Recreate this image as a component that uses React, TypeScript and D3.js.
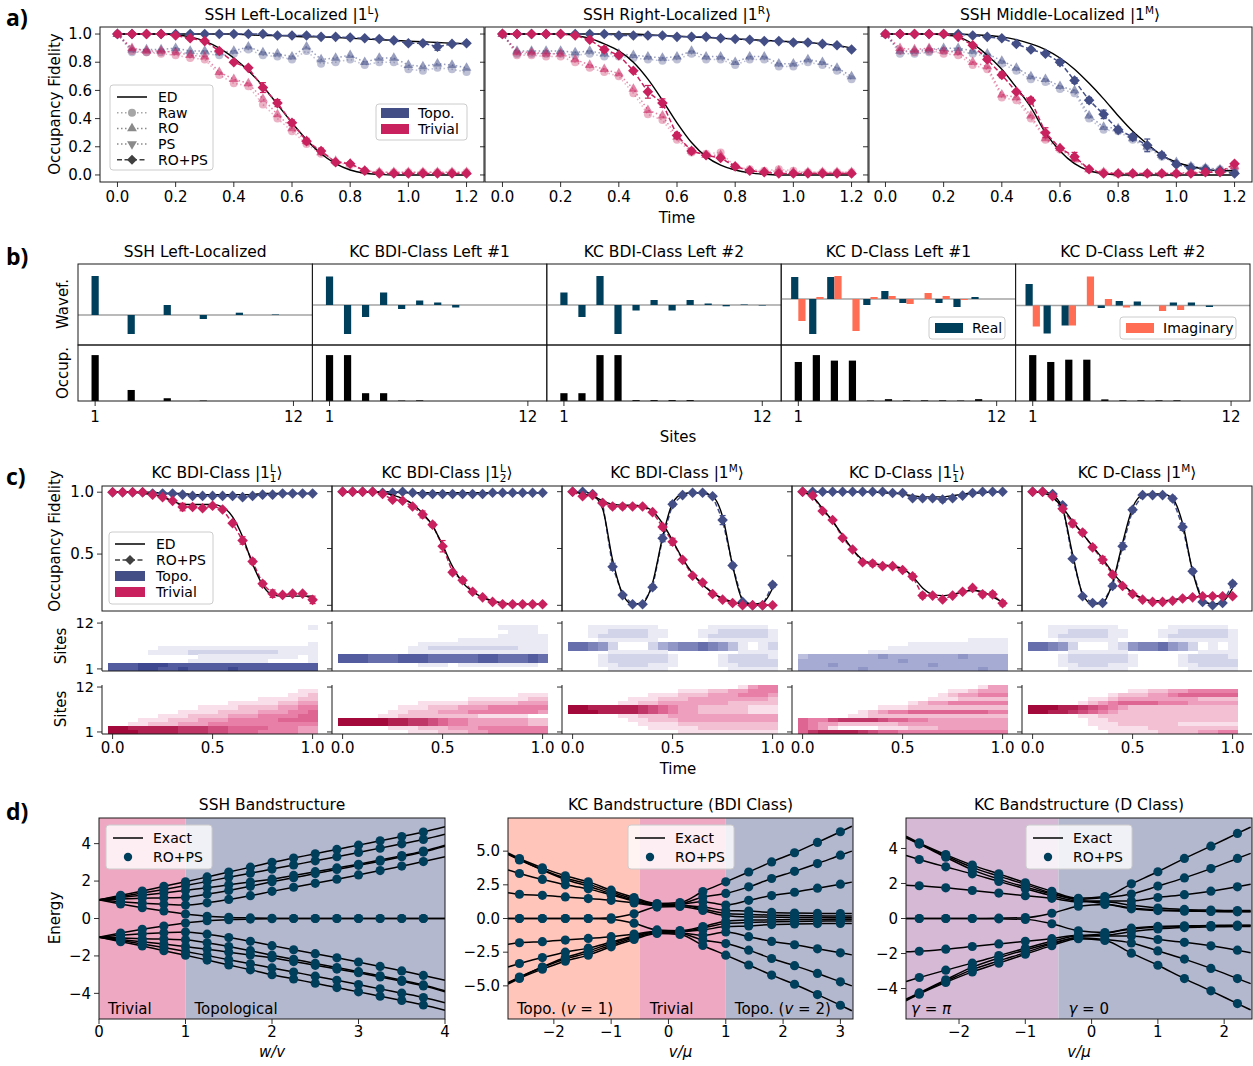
import * as d3 from 'd3';
import React from 'react';

const FONT = "'DejaVu Sans', Verdana, sans-serif";
const TOPO = '#444e86';
const TRIV = '#c8215d';
const REAL = '#003f5c';
const IMAG = '#ff6e54';
const AXIS = '#1a1a1a';
const TRIV_BG = '#eea8c1';
const TOPO_BG = '#b4b8cf';
const NU1_BG = '#ffc5bb';
const PI_BG = '#d5b9d5';

// ---------------- a) SSH occupancy fidelity ----------------
const timeA = [0, 0.05, 0.1, 0.15, 0.2, 0.25, 0.3, 0.35, 0.4, 0.45, 0.5, 0.55, 0.6, 0.65, 0.7, 0.75, 0.8, 0.85, 0.9, 0.95, 1.0, 1.05, 1.1, 1.15, 1.2];

const edTopoL = [1, 1, 1, 1, 1, 1, 1, 1, 1, 0.995, 0.99, 0.99, 0.985, 0.98, 0.98, 0.975, 0.97, 0.965, 0.96, 0.955, 0.95, 0.945, 0.94, 0.935, 0.93];
const ropsTopoL = [1, 1, 1, 1, 1, 1, 1, 1, 1, 1, 1, 0.99, 0.99, 0.99, 0.98, 0.98, 0.975, 0.97, 0.965, 0.955, 0.935, 0.935, 0.91, 0.93, 0.935];
const roTopoL = [1, 0.89, 0.89, 0.89, 0.9, 0.88, 0.88, 0.87, 0.88, 0.91, 0.87, 0.86, 0.84, 0.91, 0.82, 0.83, 0.85, 0.8, 0.83, 0.83, 0.78, 0.77, 0.79, 0.78, 0.76];
const rawTopoL = [1, 0.87, 0.87, 0.87, 0.88, 0.86, 0.86, 0.85, 0.86, 0.89, 0.85, 0.84, 0.82, 0.88, 0.79, 0.8, 0.82, 0.78, 0.8, 0.8, 0.75, 0.74, 0.76, 0.75, 0.73];
const errTopoL = [0, 0, 0, 0, 0, 0, 0, 0, 0, 0, 0, 0, 0, 0, 0, 0, 0, 0, 0, 0, 0.01, 0.01, 0.025, 0.01, 0.01];
const edTrivL = [1, 1, 1, 1, 0.995, 0.98, 0.95, 0.9, 0.83, 0.74, 0.63, 0.5, 0.37, 0.25, 0.15, 0.08, 0.035, 0.012, 0.004, 0, 0, 0, 0, 0, 0];
const ropsTrivL = [1, 1, 1, 1, 0.99, 0.97, 0.95, 0.88, 0.8, 0.76, 0.62, 0.51, 0.37, 0.24, 0.17, 0.09, 0.08, 0.03, 0.01, 0.01, 0.01, 0.01, 0.01, 0.01, 0.01];
const roTrivL = [1, 0.9, 0.88, 0.88, 0.87, 0.85, 0.84, 0.73, 0.68, 0.65, 0.54, 0.43, 0.33, 0.24, 0.16, 0.1, 0.08, 0.03, 0.02, 0.02, 0.02, 0.02, 0.02, 0.02, 0.02];
const rawTrivL = [1, 0.88, 0.87, 0.86, 0.85, 0.83, 0.82, 0.71, 0.65, 0.63, 0.5, 0.4, 0.31, 0.22, 0.15, 0.09, 0.07, 0.03, 0.02, 0.02, 0.02, 0.02, 0.02, 0.02, 0.02];
const errTrivL = [0, 0, 0, 0, 0, 0, 0, 0, 0, 0, 0.035, 0.025, 0.02, 0.02, 0.02, 0.01, 0.01, 0, 0, 0, 0, 0, 0, 0, 0];

const edTopoR = [1, 1, 1, 1, 1, 1, 1, 1, 1, 1, 0.995, 0.99, 0.985, 0.98, 0.975, 0.97, 0.965, 0.96, 0.955, 0.95, 0.945, 0.94, 0.93, 0.92, 0.9];
const ropsTopoR = [1, 1, 1, 1, 1, 1, 1, 1, 0.99, 0.99, 0.99, 0.99, 0.98, 0.98, 0.98, 0.97, 0.965, 0.96, 0.95, 0.95, 0.94, 0.94, 0.93, 0.92, 0.89];
const roTopoR = [1, 0.88, 0.88, 0.88, 0.88, 0.87, 0.88, 0.86, 0.86, 0.85, 0.84, 0.83, 0.84, 0.88, 0.84, 0.84, 0.8, 0.84, 0.84, 0.79, 0.79, 0.82, 0.8, 0.76, 0.7];
const rawTopoR = [1, 0.86, 0.86, 0.86, 0.86, 0.85, 0.86, 0.84, 0.84, 0.83, 0.82, 0.81, 0.82, 0.86, 0.82, 0.82, 0.78, 0.82, 0.82, 0.77, 0.77, 0.8, 0.78, 0.74, 0.68];
const errTopoR = [0, 0, 0, 0, 0, 0, 0, 0, 0, 0, 0, 0, 0, 0, 0, 0, 0, 0, 0, 0.01, 0.01, 0.01, 0.01, 0.01, 0.01];
const edTrivR = [1, 1, 1, 1, 1, 0.99, 0.97, 0.93, 0.88, 0.8, 0.68, 0.53, 0.37, 0.23, 0.13, 0.07, 0.035, 0.015, 0.005, 0, 0, 0, 0, 0, 0];
const ropsTrivR = [1, 1, 1, 1, 1, 0.99, 0.96, 0.89, 0.85, 0.74, 0.59, 0.51, 0.28, 0.17, 0.14, 0.12, 0.06, 0.03, 0.02, 0.01, 0.01, 0.01, 0.01, 0.01, 0.01];
const roTrivR = [1, 0.87, 0.87, 0.86, 0.86, 0.82, 0.78, 0.75, 0.72, 0.61, 0.46, 0.42, 0.27, 0.17, 0.14, 0.14, 0.06, 0.03, 0.02, 0.03, 0.02, 0.02, 0.02, 0.02, 0.02];
const rawTrivR = [1, 0.85, 0.85, 0.84, 0.84, 0.8, 0.76, 0.73, 0.7, 0.58, 0.43, 0.39, 0.25, 0.16, 0.15, 0.16, 0.06, 0.04, 0.03, 0.04, 0.03, 0.02, 0.02, 0.02, 0.02];
const errTrivR = [0, 0, 0, 0, 0, 0, 0, 0.02, 0, 0, 0.045, 0.03, 0.02, 0.02, 0.01, 0.01, 0.01, 0, 0, 0, 0, 0, 0, 0, 0];

const edTopoM = [1, 1, 1, 1, 1, 1, 0.995, 0.99, 0.98, 0.96, 0.93, 0.89, 0.83, 0.75, 0.65, 0.54, 0.42, 0.31, 0.22, 0.14, 0.09, 0.06, 0.04, 0.03, 0.03];
const ropsTopoM = [1, 1, 1, 1, 1, 1, 0.99, 0.98, 0.97, 0.93, 0.89, 0.86, 0.8, 0.67, 0.53, 0.43, 0.32, 0.27, 0.21, 0.14, 0.075, 0.05, 0.04, 0.03, 0.01];
const roTopoM = [1, 0.88, 0.88, 0.89, 0.9, 0.9, 0.88, 0.86, 0.81, 0.76, 0.7, 0.68, 0.63, 0.6, 0.42, 0.34, 0.33, 0.26, 0.2, 0.14, 0.09, 0.06, 0.05, 0.04, 0.03];
const rawTopoM = [1, 0.86, 0.86, 0.87, 0.88, 0.88, 0.86, 0.84, 0.79, 0.74, 0.68, 0.66, 0.61, 0.58, 0.4, 0.32, 0.31, 0.25, 0.19, 0.13, 0.08, 0.06, 0.05, 0.04, 0.03];
const errTopoM = [0, 0, 0, 0, 0, 0, 0, 0, 0, 0.01, 0.01, 0.01, 0.02, 0.02, 0.02, 0.03, 0.02, 0.02, 0.045, 0.02, 0.01, 0.01, 0.01, 0.01, 0.01];
const edTrivM = [1, 1, 1, 1, 0.995, 0.98, 0.93, 0.85, 0.75, 0.62, 0.48, 0.3, 0.17, 0.08, 0.03, 0.01, 0, 0, 0, 0, 0, 0, 0, 0, 0];
const ropsTrivM = [1, 1, 1, 1, 1, 0.98, 0.92, 0.82, 0.71, 0.59, 0.53, 0.3, 0.19, 0.13, 0.04, 0.01, 0.01, 0.01, 0.01, 0.01, 0.01, 0.01, 0.02, 0.02, 0.08];
const roTrivM = [1, 0.9, 0.89, 0.9, 0.88, 0.87, 0.8, 0.77, 0.57, 0.55, 0.42, 0.26, 0.19, 0.12, 0.04, 0.02, 0.01, 0.01, 0.01, 0.01, 0.01, 0.02, 0.02, 0.03, 0.06];
const rawTrivM = [1, 0.88, 0.87, 0.88, 0.86, 0.85, 0.78, 0.75, 0.55, 0.53, 0.4, 0.25, 0.18, 0.11, 0.04, 0.02, 0.01, 0.01, 0.01, 0.01, 0.01, 0.02, 0.02, 0.03, 0.05];
const errTrivM = [0, 0, 0, 0, 0, 0, 0.01, 0.01, 0.02, 0.01, 0.02, 0.035, 0.01, 0.03, 0.01, 0.01, 0, 0, 0, 0, 0, 0, 0, 0, 0.01];

const aPlots = [
  { title: 'SSH Left-Localized |1', sup: 'L',
    topo: { ed: edTopoL, rops: ropsTopoL, ro: roTopoL, raw: rawTopoL, err: errTopoL },
    triv: { ed: edTrivL, rops: ropsTrivL, ro: roTrivL, raw: rawTrivL, err: errTrivL } },
  { title: 'SSH Right-Localized |1', sup: 'R',
    topo: { ed: edTopoR, rops: ropsTopoR, ro: roTopoR, raw: rawTopoR, err: errTopoR },
    triv: { ed: edTrivR, rops: ropsTrivR, ro: roTrivR, raw: rawTrivR, err: errTrivR } },
  { title: 'SSH Middle-Localized |1', sup: 'M',
    topo: { ed: edTopoM, rops: ropsTopoM, ro: roTopoM, raw: rawTopoM, err: errTopoM },
    triv: { ed: edTrivM, rops: ropsTrivM, ro: roTrivM, raw: rawTrivM, err: errTrivM } },
];
const aTicksX = [0, 0.2, 0.4, 0.6, 0.8, 1.0, 1.2];
const aTicksY = [0, 0.2, 0.4, 0.6, 0.8, 1.0];

// ---------------- b) wavefunctions ----------------
const sites = [1, 2, 3, 4, 5, 6, 7, 8, 9, 10, 11, 12];
const bTitles = ['SSH Left-Localized', 'KC BDI-Class Left #1', 'KC BDI-Class Left #2', 'KC D-Class Left #1', 'KC D-Class Left #2'];
const waveSSH = [0.78, 0, -0.38, 0, 0.2, 0, -0.08, 0, 0.046, 0, 0.01, 0];
const waveBdi1 = [0.57, -0.58, -0.24, 0.25, -0.08, 0.09, 0.05, -0.05, 0, 0, 0, 0];
const waveBdi2 = [0.25, -0.24, 0.58, -0.58, -0.11, 0.1, -0.11, 0.1, 0.03, -0.026, 0.01, -0.01];
const realD1 = [0.44, -0.7, 0.44, 0, -0.12, 0.16, -0.08, 0, -0.08, -0.16, 0.04, 0];
const imagD1 = [-0.44, 0.04, 0.46, -0.64, 0.04, 0.06, -0.1, 0.12, 0.06, -0.02, 0, 0];
const realD2 = [0.43, -0.56, -0.4, 0, -0.05, 0.09, 0.08, 0, 0.06, 0.06, -0.03, 0];
const imagD2 = [-0.42, 0, -0.4, 0.58, 0.13, -0.04, 0, -0.11, -0.09, 0, 0, 0];
const occSSH = [1, 0, 0.24, 0, 0.06, 0, 0.01, 0, 0, 0, 0, 0];
const occBdi1 = [1, 1, 0.17, 0.17, 0.01, 0.015, 0, 0, 0, 0, 0, 0];
const occBdi2 = [0.17, 0.17, 1, 1, 0.02, 0.02, 0.02, 0.02, 0, 0, 0, 0];
const occD1 = [0.85, 1, 0.88, 0.88, 0.01, 0.04, 0.015, 0.015, 0.015, 0.01, 0.04, 0];
const occD2 = [1, 0.85, 0.9, 0.9, 0.035, 0.015, 0.015, 0.015, 0.015, 0, 0, 0];
const bReal = [waveSSH, waveBdi1, waveBdi2, realD1, realD2];
const bImag = [null, null, null, imagD1, imagD2];
const bOcc = [occSSH, occBdi1, occBdi2, occD1, occD2];
const bWaveLim = [[-0.6, 1.02], [-0.8, 0.82], [-0.8, 0.82], [-0.92, 0.7], [-0.79, 0.83]];

// ---------------- c) Kitaev chain dynamics ----------------
const timeC = [0, 0.05, 0.1, 0.15, 0.2, 0.25, 0.3, 0.35, 0.4, 0.45, 0.5, 0.55, 0.6, 0.65, 0.7, 0.75, 0.8, 0.85, 0.9, 0.95, 1.0];
const cTitles = ['KC BDI-Class |1', 'KC BDI-Class |1', 'KC BDI-Class |1', 'KC D-Class |1', 'KC D-Class |1'];
const cSup = ['L', 'L', 'M', 'L', 'M'];
const cSub = ['1', '2', '', '1', ''];

const c1TopoEd = [1, 1, 1, 1, 1, 0.99, 0.99, 0.99, 0.98, 0.98, 0.98, 0.98, 0.98, 0.98, 0.98, 0.99, 0.99, 0.99, 0.99, 0.99, 0.99];
const c1TopoRops = [1, 1, 1, 1, 0.99, 0.99, 0.99, 0.98, 0.97, 0.97, 0.97, 0.97, 0.97, 0.96, 0.97, 0.98, 0.98, 0.99, 0.99, 0.99, 0.99];
const c1TopoErr = [0, 0, 0, 0, 0, 0, 0, 0, 0, 0, 0, 0, 0, 0.01, 0, 0, 0, 0, 0, 0, 0];
const c1TrivEd = [1, 1, 1, 0.99, 0.98, 0.96, 0.93, 0.9, 0.9, 0.9, 0.9, 0.88, 0.8, 0.64, 0.42, 0.25, 0.17, 0.16, 0.16, 0.16, 0.16];
const c1TrivRops = [1, 1, 1, 1, 0.98, 0.96, 0.93, 0.88, 0.88, 0.87, 0.89, 0.86, 0.75, 0.61, 0.44, 0.26, 0.18, 0.17, 0.18, 0.18, 0.13];
const c1TrivErr = [0, 0, 0, 0, 0, 0, 0, 0.03, 0, 0, 0, 0, 0, 0.03, 0.02, 0.02, 0.03, 0.01, 0.01, 0.01, 0.03];

const c2TopoEd = [1, 1, 1, 1, 1, 1, 0.99, 0.99, 0.99, 0.99, 0.99, 0.99, 0.99, 0.99, 0.99, 0.99, 0.99, 0.99, 0.99, 0.99, 0.99];
const c2TopoRops = [1, 1, 1, 1, 0.99, 0.99, 1, 0.99, 0.98, 0.98, 0.98, 0.98, 0.98, 0.98, 0.98, 0.99, 0.99, 0.99, 0.99, 0.99, 0.99];
const c2TopoErr = [0, 0, 0, 0, 0, 0, 0, 0, 0, 0, 0, 0, 0, 0, 0, 0, 0, 0, 0, 0, 0];
const c2TrivEd = [1, 1, 1, 1, 0.99, 0.97, 0.94, 0.89, 0.81, 0.7, 0.53, 0.34, 0.2, 0.12, 0.07, 0.04, 0.02, 0.01, 0.01, 0.01, 0.01];
const c2TrivRops = [1, 1, 1, 1, 0.98, 0.93, 0.92, 0.87, 0.8, 0.71, 0.52, 0.29, 0.22, 0.12, 0.07, 0.03, 0.01, 0.01, 0.01, 0.01, 0.01];
const c2TrivErr = [0, 0, 0, 0, 0, 0, 0.01, 0, 0.03, 0.02, 0.05, 0.02, 0.02, 0.01, 0, 0, 0, 0, 0, 0, 0];

const c3TopoEd = [1, 1, 0.97, 0.85, 0.4, 0.1, 0.01, 0.02, 0.2, 0.6, 0.9, 0.98, 0.99, 0.99, 0.96, 0.78, 0.35, 0.05, 0.01, 0.02, 0.15];
const c3TopoRops = [1, 1, 0.98, 0.9, 0.34, 0.09, 0.01, 0.01, 0.16, 0.59, 0.89, 0.97, 0.99, 0.99, 0.96, 0.75, 0.35, 0.03, 0, 0, 0.18];
const c3TopoErr = [0, 0, 0, 0, 0.03, 0, 0, 0, 0.02, 0.03, 0.02, 0.01, 0, 0, 0, 0.04, 0.02, 0, 0, 0, 0.02];
const c3TrivEd = [1, 0.98, 0.96, 0.92, 0.89, 0.88, 0.88, 0.87, 0.83, 0.72, 0.57, 0.41, 0.28, 0.18, 0.11, 0.06, 0.03, 0.01, 0, 0, 0];
const c3TrivRops = [1, 0.96, 0.97, 0.9, 0.87, 0.87, 0.87, 0.87, 0.82, 0.69, 0.56, 0.4, 0.26, 0.2, 0.1, 0.05, 0.02, 0, 0, 0, 0];
const c3TrivErr = [0, 0, 0, 0, 0.02, 0.02, 0.01, 0, 0, 0.02, 0.03, 0.01, 0, 0.01, 0, 0, 0, 0, 0, 0, 0];

const c4TopoEd = [1, 1, 1, 1, 1, 1, 1, 1, 0.99, 0.99, 0.98, 0.97, 0.96, 0.96, 0.96, 0.97, 0.98, 0.99, 0.99, 1, 1];
const c4TopoRops = [1, 1, 1, 1, 1, 1, 1, 1, 1, 0.99, 0.99, 0.95, 0.95, 0.95, 0.94, 0.95, 0.97, 0.99, 1, 1, 1];
const c4TopoErr = [0, 0, 0, 0, 0, 0, 0, 0, 0, 0, 0, 0, 0, 0, 0.02, 0, 0, 0, 0, 0, 0];
const c4TrivEd = [1, 0.96, 0.87, 0.77, 0.66, 0.55, 0.47, 0.44, 0.43, 0.42, 0.4, 0.34, 0.25, 0.2, 0.19, 0.2, 0.22, 0.23, 0.22, 0.18, 0.14];
const c4TrivRops = [1, 0.97, 0.85, 0.78, 0.64, 0.55, 0.45, 0.44, 0.42, 0.42, 0.39, 0.34, 0.19, 0.19, 0.16, 0.19, 0.22, 0.25, 0.2, 0.2, 0.13];
const c4TrivErr = [0, 0, 0, 0, 0, 0, 0, 0.02, 0, 0, 0, 0.02, 0.02, 0, 0, 0, 0, 0, 0.02, 0.02, 0.02];

const c5TopoEd = [1, 1, 0.97, 0.85, 0.45, 0.1, 0.01, 0.02, 0.2, 0.55, 0.86, 0.97, 0.98, 0.98, 0.94, 0.72, 0.3, 0.05, 0.01, 0.03, 0.15];
const c5TopoRops = [1, 1, 0.98, 0.88, 0.41, 0.08, 0.02, 0.02, 0.17, 0.52, 0.84, 0.97, 0.97, 0.97, 0.94, 0.69, 0.3, 0.03, 0, 0.02, 0.19];
const c5TopoErr = [0, 0, 0, 0, 0, 0, 0, 0, 0.02, 0.03, 0.02, 0, 0, 0, 0.02, 0.03, 0.02, 0, 0, 0, 0.02];
const c5TrivEd = [1, 0.99, 0.95, 0.86, 0.74, 0.63, 0.52, 0.41, 0.29, 0.19, 0.11, 0.06, 0.04, 0.04, 0.05, 0.06, 0.07, 0.08, 0.08, 0.08, 0.08];
const c5TrivRops = [1, 1, 0.96, 0.85, 0.72, 0.64, 0.51, 0.4, 0.27, 0.17, 0.1, 0.05, 0.03, 0.03, 0.04, 0.06, 0.07, 0.08, 0.08, 0.08, 0.08];
const c5TrivErr = [0, 0, 0, 0.02, 0.03, 0.02, 0.02, 0.03, 0.02, 0, 0, 0, 0, 0, 0, 0, 0, 0, 0, 0, 0];

const cTopo = [
  { ed: c1TopoEd, rops: c1TopoRops, err: c1TopoErr },
  { ed: c2TopoEd, rops: c2TopoRops, err: c2TopoErr },
  { ed: c3TopoEd, rops: c3TopoRops, err: c3TopoErr },
  { ed: c4TopoEd, rops: c4TopoRops, err: c4TopoErr },
  { ed: c5TopoEd, rops: c5TopoRops, err: c5TopoErr },
];
const cTriv = [
  { ed: c1TrivEd, rops: c1TrivRops, err: c1TrivErr },
  { ed: c2TrivEd, rops: c2TrivRops, err: c2TrivErr },
  { ed: c3TrivEd, rops: c3TrivRops, err: c3TrivErr },
  { ed: c4TrivEd, rops: c4TrivRops, err: c4TrivErr },
  { ed: c5TrivEd, rops: c5TrivRops, err: c5TrivErr },
];
const cLims = [[0.04, 1.05], [-0.05, 1.05], [-0.05, 1.05], [0.07, 1.045], [-0.05, 1.05]];

// site occupation heatmaps: rows are site 12 (top) ... site 1 (bottom), one digit (0-9) per time step
const heatTopo1 = ['000000000000000000000', '000000000000000000001', '000000000000000000000', '000000000000000000000', '000000000000000000000', '000000000000000000001', '000001111111111111111', '000011112222222221111', '000000000111111111101', '000000001111111100001', '888999888888888888888', '888998898888988888888'];
const heatTopo2 = ['000000000000000000000', '000000000000000011110', '000000000000000001110', '000000000000000011111', '000000000000111111111', '000000001111111111111', '000000011222222222111', '000000011111111111111', '888777888777778877787', '888777888777778877787', '000000001110111111110', '000000000000000000000'];
const heatTopo3 = ['000000000000000000000', '001111111000001111110', '001122221100011222221', '001222221100012222221', '000111111000001111111', '776520002456676531012', '776520002456676531012', '000011111100000001111', '000122222210000122221', '000122222210000122222', '000112221110000112222', '000011111100000011111'];
const heatTopo4 = ['000000000000000000000', '000000000000000000000', '000000000000000000000', '000000000000000000000', '000000000000000001111', '000000000001111111111', '000000000111111111111', '000000011111111111111', '344444445444444454444', '444444444454444444444', '444544444444454444444', '444444544444444444544'];
const heatTopo5 = ['000000000000000000000', '001111111000001111110', '001122221100011222221', '001222221100012222221', '000111111000001111111', '776520001256675420101', '776520001256675420101', '000011111100000001111', '000122222210000122221', '000122222210000122222', '000112221110000112222', '000011111100000011111'];
const heatTriv1 = ['000000000000000000000', '000000000000000000011', '000000000000000000112', '000000000000000111122', '000000000000111112233', '000000000111122223344', '000000011112222333445', '000001112222333444455', '000111222333444445555', '001122233344444444444', '998888877766555544433', '999888877766555444433'];
const heatTriv2 = ['000000000000000000000', '000000000000000000000', '000000000000000000111', '000000000000011111122', '000000001111122222333', '000000111222333444444', '000001122233344444443', '000011222222221111100', '999998877654433333322', '999998877654433333322', '000001112223334444444', '000000011122233444444'];
const heatTriv3 = ['000000000000000001344', '000000000001112233444', '000000001112223334443', '000000111222333333332', '000001122333333322222', '998888876543322222111', '999888876543322222111', '000001122233333333333', '000000112223333333333', '000000011112222222222', '000000001111122222222', '000000000001111111111'];
const heatTriv4 = ['000000000000000000133', '000000000000000112333', '000000000000001233444', '000000000000011122222', '000000000001233444444', '000000001112222222222', '000000123445555555544', '000001122222222222222', '544677776554433333333', '543322222233333333333', '543100001112223333333', '578888765544444444444'];
const heatTriv5 = ['000000000000000000000', '000000000011223344444', '000000001222334555555', '000000112333333332222', '000001234555544433333', '999887654322222222222', '998876543222222222222', '000001122222222222222', '000000112222222222222', '000000111222222111111', '000000011111222222222', '000000001111122223344'];
const heatTopo = [heatTopo1, heatTopo2, heatTopo3, heatTopo4, heatTopo5];
const heatTriv = [heatTriv1, heatTriv2, heatTriv3, heatTriv4, heatTriv5];

// ---------------- d) band structures ----------------
const sshGrid = [0, 0.25, 0.5, 0.75, 1, 1.25, 1.5, 1.75, 2, 2.25, 2.5, 2.75, 3, 3.25, 3.5, 3.75, 4];
const sshB1 = [1, 1.24, 1.47, 1.72, 1.96, 2.22, 2.48, 2.74, 3.0, 3.23, 3.46, 3.69, 3.92, 4.15, 4.38, 4.62, 4.9];
const sshB2 = [1, 1.18, 1.36, 1.55, 1.76, 1.98, 2.2, 2.42, 2.64, 2.86, 3.08, 3.3, 3.53, 3.76, 3.99, 4.22, 4.5];
const sshB3 = [1, 1.12, 1.24, 1.36, 1.5, 1.64, 1.8, 1.95, 2.1, 2.3, 2.5, 2.7, 2.9, 3.12, 3.36, 3.6, 3.92];
const sshB4 = [1, 1.04, 1.08, 1.1, 1.14, 1.3, 1.5, 1.72, 1.96, 2.18, 2.4, 2.62, 2.84, 3.06, 3.3, 3.55, 3.86];
const sshB5 = [1, 0.9, 0.82, 0.76, 0.72, 0.84, 1.02, 1.22, 1.45, 1.67, 1.88, 2.1, 2.33, 2.56, 2.8, 3.04, 3.3];
const sshEdge = [1, 0.78, 0.58, 0.4, 0.24, 0.12, 0.06, 0.03, 0.01, 0, 0, 0, 0, 0, 0, 0, 0];

const bdiGrid = [-2.8, -2.6, -2.2, -1.8, -1.4, -1.0, -0.6, -0.2, 0.2, 0.6, 1.0, 1.4, 1.8, 2.2, 2.6, 3.0, 3.2];
const bdiB1 = [4.87, 4.45, 3.76, 3.17, 2.72, 2.1, 1.56, 1.11, 1.18, 2.0, 2.72, 3.45, 4.2, 4.88, 5.65, 6.44, 6.85];
const bdiB2 = [4.8, 4.38, 3.62, 3.0, 2.55, 1.98, 1.45, 1.05, 1.1, 1.6, 1.86, 2.35, 2.97, 3.5, 4.08, 4.7, 5.0];
const bdiB3 = [3.6, 3.34, 2.9, 2.5, 2.2, 1.75, 1.3, 1.0, 1.05, 1.25, 1.0, 1.35, 1.7, 1.95, 2.25, 2.55, 2.7];
const bdiB4 = [1.92, 1.8, 1.72, 1.6, 1.48, 1.35, 1.15, 0.95, 0.95, 0.85, 0.6, 0.55, 0.45, 0.4, 0.38, 0.37, 0.37];
const bdiB5 = [4.75, 4.35, 3.6, 2.9, 2.4, 1.85, 1.35, 0.98, 1.0, 0.7, 0.37, 0.3, 0.25, 0.22, 0.2, 0.18, 0.18];
const bdiB6 = [0, 0, 0, 0, 0, 0.05, 0.35, 0.85, 0.9, 0.6, 0.2, 0.12, 0.1, 0.08, 0.07, 0.06, 0.06];

const dGrid = [-2.8, -2.6, -2.2, -1.8, -1.4, -1.0, -0.6, -0.2, 0.2, 0.6, 1.0, 1.4, 1.8, 2.2, 2.4];
const dB1 = [4.7, 4.32, 3.65, 3.05, 2.55, 2.04, 1.55, 1.15, 1.25, 1.98, 2.67, 3.43, 4.13, 4.86, 5.22];
const dB2 = [4.65, 4.28, 3.58, 2.92, 2.42, 1.95, 1.45, 1.1, 1.2, 1.4, 1.85, 2.32, 2.85, 3.43, 3.72];
const dB3 = [3.6, 3.37, 2.95, 2.55, 2.12, 1.7, 1.3, 1.0, 1.0, 1.0, 1.2, 1.36, 1.56, 1.81, 1.95];
const dB4 = [1.9, 1.87, 1.75, 1.6, 1.45, 1.3, 1.15, 0.95, 0.95, 0.75, 0.6, 0.52, 0.48, 0.45, 0.45];
const dB5 = [4.6, 4.25, 3.5, 2.78, 2.25, 1.8, 1.4, 1.05, 0.85, 0.6, 0.5, 0.45, 0.42, 0.4, 0.4];
const dB6 = [0, 0, 0, 0, 0.02, 0.05, 0.3, 0.7, 0.8, 0.55, 0.45, 0.42, 0.4, 0.38, 0.38];

const dPlots = [
  { title: 'SSH Bandstructure', xLabel: 'w/v', left: 99, width: 346, xDom: [0, 4], yDom: [-5.37, 5.37],
    grid: sshGrid, bands: [sshB1, sshB2, sshB3, sshB4, sshB5, sshEdge],
    regions: [[0, 1, TRIV_BG], [1, 4, TOPO_BG]],
    labels: [[0, 9, 'Trivial', ''], [1, 9, 'Topological', '']],
    xTicks: [0, 1, 2, 3, 4], yTicks: [-4, -2, 0, 2, 4], yFmt: d3.format('d'), legendLeft: 106 },
  { title: 'KC Bandstructure (BDI Class)', xLabel: 'v/μ', left: 508, width: 345, xDom: [-2.8, 3.22], yDom: [-7.46, 7.46],
    grid: bdiGrid, bands: [bdiB1, bdiB2, bdiB3, bdiB4, bdiB5, bdiB6],
    regions: [[-2.8, -0.5, NU1_BG], [-0.5, 1, TRIV_BG], [1, 3.22, TOPO_BG]],
    labels: [[-2.8, 9, 'Topo. (', '1'], [-0.5, 10, 'Trivial', ''], [1, 9, 'Topo. (', '2']],
    xTicks: [-2, -1, 0, 1, 2, 3], yTicks: [-5, -2.5, 0, 2.5, 5], yFmt: d3.format('.1f'), legendLeft: 628 },
  { title: 'KC Bandstructure (D Class)', xLabel: 'v/μ', left: 906, width: 346, xDom: [-2.8, 2.42], yDom: [-5.74, 5.74],
    grid: dGrid, bands: [dB1, dB2, dB3, dB4, dB5, dB6],
    regions: [[-2.8, -0.5, PI_BG], [-0.5, 2.42, TOPO_BG]],
    labels: [[-2.8, 5, 'γ', 'π'], [-0.5, 10, 'γ', '0']],
    xTicks: [-2, -1, 0, 1, 2], yTicks: [-4, -2, 0, 2, 4], yFmt: d3.format('d'), legendLeft: 1026 },
];
const bandSigns = [1, -1];

// ---------------- helpers ----------------
const diamond = (r: number) => `M0,${-r}L${r},0L0,${r}L${-r},0Z`;
const triUp = d3.symbol(d3.symbolTriangle, 42)() as string;
const fmt1 = d3.format('.1f');

function YTicks({ y, x, ticks, fmt, labels, fs = 15 }: any) {
  return (
    <g>
      {ticks.map((t: number) => (
        <g key={t}>
          <line x1={x - 5} x2={x} y1={y(t)} y2={y(t)} stroke={AXIS} strokeWidth={0.9} />
          {labels && <text x={x - 8} y={y(t)} dy="0.35em" textAnchor="end" fontSize={fs}>{fmt(t)}</text>}
        </g>
      ))}
    </g>
  );
}

function XTicks({ x, y, ticks, fmt, labels, off = 20 }: any) {
  return (
    <g>
      {ticks.map((t: number) => (
        <g key={t}>
          <line x1={x(t)} x2={x(t)} y1={y} y2={y + 5} stroke={AXIS} strokeWidth={0.9} />
          {labels && <text x={x(t)} y={y + off} textAnchor="middle" fontSize={15}>{fmt(t)}</text>}
        </g>
      ))}
    </g>
  );
}

function Ket({ x, y, text, sup, sub }: any) {
  return (
    <text x={x} y={y} textAnchor="middle" fontSize={15.5}>
      {text}
      <tspan dy={-6} fontSize={10.5}>{sup}</tspan>
      {sub ? <tspan dx={-6} dy={10} fontSize={10.5}>{sub}</tspan> : null}
      <tspan dy={sub ? -4 : 6}>⟩</tspan>
    </text>
  );
}

function ErrBars({ x, y, vals, err, ts, color }: any) {
  return (
    <g stroke={color} strokeWidth={1.2}>
      {vals.map((v: number, i: number) => err[i] > 0 ? (
        <g key={i}>
          <line x1={x(ts[i])} x2={x(ts[i])} y1={y(v - err[i])} y2={y(v + err[i])} />
          <line x1={x(ts[i]) - 3} x2={x(ts[i]) + 3} y1={y(v - err[i])} y2={y(v - err[i])} />
          <line x1={x(ts[i]) - 3} x2={x(ts[i]) + 3} y1={y(v + err[i])} y2={y(v + err[i])} />
        </g>
      ) : null)}
    </g>
  );
}

// ---------------- panel a ----------------
const aLefts = [100, 485, 868];
const aWidth = 384;

function FidelityA({ p, left, first }: any) {
  const x = d3.scaleLinear().domain([-0.06, 1.26]).range([left, left + aWidth]);
  const y = d3.scaleLinear().domain([-0.05, 1.05]).range([182, 27]);
  const ln = d3.line<number>().x((_, i) => x(timeA[i])).y((v) => y(v));
  const edLn = d3.line<number>().x((_, i) => x(timeA[i])).y((v) => y(v)).curve(d3.curveMonotoneX);
  const series = [{ c: TOPO, s: p.topo }, { c: TRIV, s: p.triv }];
  return (
    <g>
      {series.map(({ c, s }, k) => (
        <g key={'l' + k}>
          <path d={ln(s.raw) as string} fill="none" stroke={c} strokeOpacity={0.35} strokeWidth={1.5} strokeDasharray="1.5,2.5" />
          {s.raw.map((v: number, i: number) => <circle key={i} cx={x(timeA[i])} cy={y(v)} r={4} fill={c} fillOpacity={0.35} />)}
          <path d={ln(s.ro) as string} fill="none" stroke={c} strokeOpacity={0.55} strokeWidth={1.5} strokeDasharray="1.5,2.5" />
          {s.ro.map((v: number, i: number) => <path key={i} d={triUp} transform={`translate(${x(timeA[i])},${y(v)})`} fill={c} fillOpacity={0.55} />)}
        </g>
      ))}
      {series.map(({ s }, k) => <path key={'e' + k} d={edLn(s.ed) as string} fill="none" stroke="#000" strokeWidth={1.4} />)}
      {series.map(({ c, s }, k) => (
        <g key={'r' + k}>
          <path d={ln(s.rops) as string} fill="none" stroke={c} strokeWidth={1.5} strokeDasharray="5,2.5" />
          <ErrBars x={x} y={y} vals={s.rops} err={s.err} ts={timeA} color={c} />
          {s.rops.map((v: number, i: number) => <path key={i} d={diamond(5.3)} transform={`translate(${x(timeA[i])},${y(v)})`} fill={c} />)}
        </g>
      ))}
      <rect x={left} y={27} width={aWidth} height={155} fill="none" stroke={AXIS} strokeWidth={1} />
      <YTicks y={y} x={left} ticks={aTicksY} fmt={fmt1} labels={first} />
      <XTicks x={x} y={182} ticks={aTicksX} fmt={fmt1} labels={true} />
      <Ket x={left + aWidth / 2} y={20} text={p.title} sup={p.sup} />
    </g>
  );
}

function PanelA() {
  const lx = 117;
  const entries = [
    { label: 'ED', dash: null, mark: null, col: '#000' },
    { label: 'Raw', dash: '1.5,2.5', mark: 'c', col: '#a6a6a6' },
    { label: 'RO', dash: '1.5,2.5', mark: 'u', col: '#8a8a8a' },
    { label: 'PS', dash: '1.5,2.5', mark: 'd', col: '#8a8a8a' },
    { label: 'RO+PS', dash: '5,2.5', mark: 'D', col: '#404040' },
  ];
  return (
    <g>
      {aPlots.map((p, i) => <FidelityA key={i} p={p} left={aLefts[i]} first={i === 0} />)}
      <text transform="translate(60,104) rotate(-90)" textAnchor="middle" fontSize={15}>Occupancy Fidelity</text>
      <text x={677} y={223} textAnchor="middle" fontSize={15}>Time</text>
      <rect x={110} y={85} width={103} height={85} rx={3} fill="#fff" fillOpacity={0.85} stroke="#cccccc" />
      {entries.map((e, i) => {
        const yy = 97 + i * 15.7;
        return (
          <g key={e.label}>
            <line x1={lx} x2={lx + 30} y1={yy} y2={yy} stroke={e.col} strokeWidth={1.5} strokeDasharray={e.dash || undefined} />
            {e.mark === 'c' && <circle cx={lx + 15} cy={yy} r={4} fill={e.col} />}
            {e.mark === 'u' && <path d={triUp} transform={`translate(${lx + 15},${yy})`} fill={e.col} />}
            {e.mark === 'd' && <path d={triUp} transform={`translate(${lx + 15},${yy}) rotate(180)`} fill={e.col} />}
            {e.mark === 'D' && <path d={diamond(5)} transform={`translate(${lx + 15},${yy})`} fill={e.col} />}
            <text x={158} y={yy} dy="0.35em" fontSize={14}>{e.label}</text>
          </g>
        );
      })}
      <rect x={376} y={104} width={91} height={36} rx={3} fill="#fff" fillOpacity={0.85} stroke="#cccccc" />
      <rect x={381} y={108} width={28} height={10} fill={TOPO} />
      <text x={418} y={113} dy="0.35em" fontSize={14}>Topo.</text>
      <rect x={381} y={124} width={28} height={10} fill={TRIV} />
      <text x={418} y={129} dy="0.35em" fontSize={14}>Trivial</text>
    </g>
  );
}

// ---------------- panel b ----------------
const bLeft = 78;
const bWidth = 234.4;

function ColumnB({ i }: any) {
  const left = bLeft + i * bWidth;
  const x = d3.scaleLinear().domain([0.05, 13.05]).range([left, left + bWidth]);
  const yw = d3.scaleLinear().domain(bWaveLim[i]).range([345, 264]);
  const yo = d3.scaleLinear().domain([0, 1.22]).range([401, 345]);
  const bw = x(0.4) - x(0);
  const imag = bImag[i];
  const off = imag ? -0.2 : 0;
  const bar = (v: number, cx: number, col: string, key: string) => (
    <rect key={key} x={x(cx) - bw / 2} y={yw(Math.max(v, 0))} width={bw} height={Math.abs(yw(v) - yw(0))} fill={col} />
  );
  return (
    <g>
      <line x1={left} x2={left + bWidth} y1={yw(0)} y2={yw(0)} stroke="#a3a3a3" strokeWidth={1.5} />
      {bReal[i].map((v, k) => bar(v, sites[k] + off, REAL, 'r' + k))}
      {imag && imag.map((v, k) => bar(v, sites[k] + 0.2, IMAG, 'i' + k))}
      {bOcc[i].map((v, k) => (
        <rect key={'o' + k} x={x(sites[k]) - bw / 2} y={yo(v)} width={bw} height={yo(0) - yo(v)} fill="#000" />
      ))}
      <rect x={left} y={264} width={bWidth} height={81} fill="none" stroke={AXIS} strokeWidth={1} />
      <rect x={left} y={345} width={bWidth} height={56} fill="none" stroke={AXIS} strokeWidth={1} />
      <XTicks x={x} y={401} ticks={[1, 12]} fmt={d3.format('d')} labels={true} off={21} />
      <text x={left + bWidth / 2} y={257} textAnchor="middle" fontSize={15.5}>{bTitles[i]}</text>
    </g>
  );
}

function PanelB() {
  return (
    <g>
      {bTitles.map((_, i) => <ColumnB key={i} i={i} />)}
      <text transform="translate(68,304) rotate(-90)" textAnchor="middle" fontSize={15}>Wavef.</text>
      <text transform="translate(68,373) rotate(-90)" textAnchor="middle" fontSize={15}>Occup.</text>
      <text x={678} y={442} textAnchor="middle" fontSize={15}>Sites</text>
      <rect x={929} y={317} width={76} height={22} rx={3} fill="#fff" fillOpacity={0.85} stroke="#cccccc" />
      <rect x={935} y={323} width={28} height={10} fill={REAL} />
      <text x={972} y={328} dy="0.35em" fontSize={14}>Real</text>
      <rect x={1120} y={317} width={116} height={22} rx={3} fill="#fff" fillOpacity={0.85} stroke="#cccccc" />
      <rect x={1126} y={323} width={28} height={10} fill={IMAG} />
      <text x={1163} y={328} dy="0.35em" fontSize={14}>Imaginary</text>
    </g>
  );
}

// ---------------- panel c ----------------
const cLeft = 102;
const cWidth = 230;
const blueScale = d3.scaleLinear<string>().domain([0, 4.5, 9]).range(['#ffffff', '#9aa0cd', '#3d4890']);
const pinkScale = d3.scaleLinear<string>().domain([0, 4.5, 9]).range(['#ffffff', '#e56f9c', '#a3093b']);

function Heat({ x, y, rows, scale }: any) {
  const cw = x(0.05) - x(0);
  return (
    <g shapeRendering="crispEdges">
      {rows.map((row: string, r: number) => {
        const site = 12 - r;
        return timeC.map((t, k) => {
          const v = +row[k] || 0;
          if (v === 0) return null;
          return <rect key={r + '-' + k} x={x(t) - cw / 2} y={y(site + 0.5)} width={cw + 0.4} height={y(site - 0.5) - y(site + 0.5) + 0.4} fill={scale(v)} />;
        });
      })}
    </g>
  );
}

function ColumnC({ i }: any) {
  const left = cLeft + i * cWidth;
  const x = d3.scaleLinear().domain([-0.053, 1.097]).range([left, left + cWidth]);
  const y = d3.scaleLinear().domain(cLims[i]).range([611, 486]);
  const yh1 = d3.scaleLinear().domain([0.5, 12.5]).range([671, 621]);
  const yh2 = d3.scaleLinear().domain([0.5, 12.5]).range([734, 685]);
  const ln = d3.line<number>().x((_, k) => x(timeC[k])).y((v) => y(v));
  const edLn = d3.line<number>().x((_, k) => x(timeC[k])).y((v) => y(v)).curve(d3.curveMonotoneX);
  const series = [{ c: TOPO, s: cTopo[i] }, { c: TRIV, s: cTriv[i] }];
  const yt = [0, 0.5, 1.0].filter((t) => t >= cLims[i][0] && t <= cLims[i][1]);
  return (
    <g>
      {series.map(({ c, s }, k) => (
        <g key={k}>
          <path d={ln(s.rops) as string} fill="none" stroke={c} strokeWidth={1.5} strokeDasharray="5,2.5" />
          <path d={edLn(s.ed) as string} fill="none" stroke="#000" strokeWidth={1.4} />
          <ErrBars x={x} y={y} vals={s.rops} err={s.err} ts={timeC} color={c} />
          {s.rops.map((v: number, j: number) => <path key={j} d={diamond(5.3)} transform={`translate(${x(timeC[j])},${y(v)})`} fill={c} />)}
        </g>
      ))}
      <rect x={left} y={486} width={cWidth} height={125} fill="none" stroke={AXIS} strokeWidth={1} />
      <YTicks y={y} x={left} ticks={yt} fmt={fmt1} labels={i === 0} />
      <Heat x={x} y={yh1} rows={heatTopo[i]} scale={blueScale} />
      <Heat x={x} y={yh2} rows={heatTriv[i]} scale={pinkScale} />
      <line x1={left} x2={left} y1={621} y2={671} stroke={AXIS} strokeWidth={1} />
      <line x1={left} x2={left + cWidth} y1={671} y2={671} stroke={AXIS} strokeWidth={1} />
      <line x1={left} x2={left} y1={685} y2={734} stroke={AXIS} strokeWidth={1} />
      <line x1={left} x2={left + cWidth} y1={734} y2={734} stroke={AXIS} strokeWidth={1} />
      <YTicks y={yh1} x={left} ticks={[1, 12]} fmt={d3.format('d')} labels={i === 0} fs={14.5} />
      <YTicks y={yh2} x={left} ticks={[1, 12]} fmt={d3.format('d')} labels={i === 0} fs={14.5} />
      <XTicks x={x} y={734} ticks={[0, 0.5, 1]} fmt={fmt1} labels={true} off={19} />
      <Ket x={left + cWidth / 2} y={478} text={cTitles[i]} sup={cSup[i]} sub={cSub[i]} />
    </g>
  );
}

function PanelC() {
  return (
    <g>
      {cTitles.map((_, i) => <ColumnC key={i} i={i} />)}
      <text transform="translate(60,541) rotate(-90)" textAnchor="middle" fontSize={15}>Occupancy Fidelity</text>
      <text transform="translate(66,646) rotate(-90)" textAnchor="middle" fontSize={15}>Sites</text>
      <text transform="translate(66,709) rotate(-90)" textAnchor="middle" fontSize={15}>Sites</text>
      <text x={678} y={774} textAnchor="middle" fontSize={15}>Time</text>
      <rect x={109} y={532} width={104} height={72} rx={3} fill="#fff" fillOpacity={0.85} stroke="#cccccc" />
      <line x1={115} x2={145} y1={544} y2={544} stroke="#000" strokeWidth={1.5} />
      <text x={156} y={544} dy="0.35em" fontSize={14}>ED</text>
      <line x1={115} x2={145} y1={560} y2={560} stroke="#404040" strokeWidth={1.5} strokeDasharray="5,2.5" />
      <path d={diamond(5)} transform="translate(130,560)" fill="#404040" />
      <text x={156} y={560} dy="0.35em" fontSize={14}>RO+PS</text>
      <rect x={115} y={571} width={30} height={10} fill={TOPO} />
      <text x={156} y={576} dy="0.35em" fontSize={14}>Topo.</text>
      <rect x={115} y={587} width={30} height={10} fill={TRIV} />
      <text x={156} y={592} dy="0.35em" fontSize={14}>Trivial</text>
    </g>
  );
}

// ---------------- panel d ----------------
function BandPlot({ p }: any) {
  const top = 818, bottom = 1019;
  const x = d3.scaleLinear().domain(p.xDom).range([p.left, p.left + p.width]);
  const y = d3.scaleLinear().domain(p.yDom).range([bottom, top]);
  const n = p.grid.length;
  const clipId = 'clip' + p.left;
  return (
    <g>
      <clipPath id={clipId}><rect x={p.left} y={top} width={p.width} height={bottom - top} /></clipPath>
      {p.regions.map(([a, b, c]: any, k: number) => (
        <rect key={k} x={x(a)} y={top} width={x(b) - x(a)} height={bottom - top} fill={c} />
      ))}
      <g clipPath={`url(#${clipId})`}>
        {bandSigns.map((sg) => p.bands.map((band: number[], k: number) => {
          const ln = d3.line<number>().x((_, j) => x(p.grid[j])).y((v) => y(sg * v)).curve(d3.curveMonotoneX);
          return <path key={sg + '-' + k} d={ln(band) as string} fill="none" stroke="#000" strokeWidth={1.5} />;
        }))}
        {bandSigns.map((sg) => p.bands.map((band: number[], k: number) => band.map((v, j) => (j > 0 && j < n - 1) ? (
          <circle key={sg + '-' + k + '-' + j} cx={x(p.grid[j])} cy={y(sg * v)} r={4.6} fill={REAL} />
        ) : null)))}
      </g>
      {p.labels.map(([a, dx, t1, t2]: any, k: number) => (
        <text key={k} x={x(a) + dx} y={1014} fontSize={15}>
          {t2 === '' ? t1 : t1 === 'γ' ? (
            <>
              <tspan fontStyle="italic">γ</tspan> = {t2 === 'π' ? <tspan fontStyle="italic">π</tspan> : t2}
            </>
          ) : (
            <>
              {t1}<tspan fontStyle="italic">v</tspan> = {t2})
            </>
          )}
        </text>
      ))}
      <rect x={p.left} y={top} width={p.width} height={bottom - top} fill="none" stroke={AXIS} strokeWidth={1} />
      <YTicks y={y} x={p.left} ticks={p.yTicks} fmt={p.yFmt} labels={true} />
      <XTicks x={x} y={bottom} ticks={p.xTicks} fmt={d3.format('d')} labels={true} off={18} />
      <text x={p.left + p.width / 2} y={810} textAnchor="middle" fontSize={15.5}>{p.title}</text>
      <text x={p.left + p.width / 2} y={1057} textAnchor="middle" fontSize={15} fontStyle="italic">{p.xLabel}</text>
      <rect x={p.legendLeft} y={825} width={106} height={44} rx={3} fill="#fff" fillOpacity={0.8} stroke="#cccccc" />
      <line x1={p.legendLeft + 7} x2={p.legendLeft + 37} y1={838} y2={838} stroke="#000" strokeWidth={1.5} />
      <text x={p.legendLeft + 47} y={838} dy="0.35em" fontSize={14}>Exact</text>
      <circle cx={p.legendLeft + 22} cy={857} r={4.2} fill={REAL} />
      <text x={p.legendLeft + 47} y={857} dy="0.35em" fontSize={14}>RO+PS</text>
    </g>
  );
}

function PanelD() {
  return (
    <g>
      {dPlots.map((p, i) => <BandPlot key={i} p={p} />)}
      <text transform="translate(60,918) rotate(-90)" textAnchor="middle" fontSize={15}>Energy</text>
    </g>
  );
}

export default function App() {
  return (
    <svg width={1253} height={1066} style={{ position: 'absolute', left: 0, top: 0 }} fontFamily={FONT}>
      <rect width={1253} height={1066} fill="#fff" />
      <PanelA />
      <PanelB />
      <PanelC />
      <PanelD />
      <g fontFamily="'Open Sans', 'DejaVu Sans', sans-serif" fontWeight={700} fontSize={23}>
        <text x={6} y={26}>a)</text>
        <text x={6} y={265}>b)</text>
        <text x={6} y={485}>c)</text>
        <text x={6} y={820}>d)</text>
      </g>
    </svg>
  );
}
